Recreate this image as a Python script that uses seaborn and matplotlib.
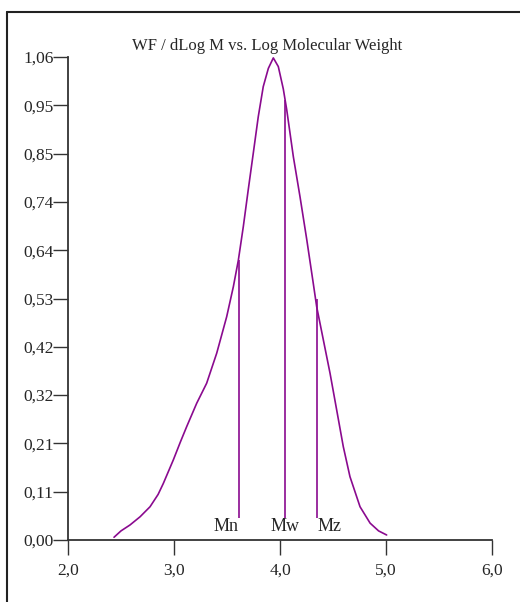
import numpy as np
import pandas as pd
import seaborn as sns
import matplotlib.pyplot as plt
from matplotlib.lines import Line2D

# curve
log_m = [2.434, 2.50, 2.585, 2.68, 2.774, 2.85, 2.899, 2.994, 3.06, 3.12, 3.214, 3.308,
         3.403, 3.497, 3.56, 3.607, 3.654, 3.70, 3.748, 3.795, 3.842, 3.89, 3.937,
         3.984, 4.031, 4.063, 4.126, 4.189, 4.252, 4.314, 4.346, 4.409, 4.472,
         4.535, 4.597, 4.66, 4.755, 4.85, 4.93, 5.006]
wf = [0.006, 0.020, 0.033, 0.051, 0.073, 0.100, 0.124, 0.176, 0.215, 0.249, 0.300, 0.344,
      0.410, 0.490, 0.556, 0.614, 0.688, 0.768, 0.849, 0.929, 0.995, 1.035, 1.058,
      1.039, 0.990, 0.945, 0.841, 0.753, 0.660, 0.563, 0.512, 0.439, 0.366,
      0.285, 0.205, 0.139, 0.073, 0.037, 0.020, 0.011]

# averages
avg_names = ["Mn", "Mw", "Mz"]
avg_x = [3.61, 4.05, 4.35]
avg_top = [0.615, 0.965, 0.53]
avg_bottom = 0.048

xticks = [2.0, 3.0, 4.0, 5.0, 6.0]
xlabels = ["2,0", "3,0", "4,0", "5,0", "6,0"]
yticks = [0.0, 0.106, 0.212, 0.318, 0.424, 0.53, 0.636, 0.742, 0.848, 0.954, 1.06]
ylabels = ["0,00", "0,11", "0,21", "0,32", "0,42", "0,53", "0,64", "0,74", "0,85", "0,95", "1,06"]

sns.set_style("ticks")
plt.rcParams["font.family"] = ["Liberation Serif", "DejaVu Serif"]

purple = "#8a0a8f"
fig = plt.figure(figsize=(5.2, 6.02), dpi=100)
ax = fig.add_axes([68/520, 62/602, 424/520, 483/602])

df = pd.DataFrame({"logM": log_m, "wf": wf})
sns.lineplot(data=df, x="logM", y="wf", ax=ax, color=purple, lw=1.2, sort=False)
ax.vlines(avg_x, avg_bottom, avg_top, color=purple, lw=1.2)
ax.text(avg_x[0], 0.012, avg_names[0], ha="right", va="bottom", fontsize=13)
ax.text(avg_x[1], 0.012, avg_names[1], ha="center", va="bottom", fontsize=13)
ax.text(avg_x[2], 0.012, avg_names[2], ha="left", va="bottom", fontsize=13)

ax.set_xlim(2.0, 6.0)
ax.set_ylim(0, 1.06)
ax.set_xticks(xticks, xlabels)
ax.set_yticks(yticks, ylabels)
ax.tick_params(axis="both", length=10.5, width=1.0, color="#333333", labelsize=12.5)
ax.tick_params(axis="y", pad=0)
ax.tick_params(axis="x", pad=6)
for s in ["left", "bottom"]:
    ax.spines[s].set_color("#333333")
    ax.spines[s].set_linewidth(1.3)
sns.despine(ax=ax)
ax.set_xlabel("")
ax.set_ylabel("")
ax.patch.set_alpha(0)

fig.text(267/520, 1 - 46/602, "WF / dLog M vs. Log Molecular Weight",
         ha="center", va="center", fontsize=12)

# outer frame (top and left edges only are visible)
fig.add_artist(Line2D([7/520, 1.0], [1 - 12/602, 1 - 12/602], color="#222222", lw=1.5))
fig.add_artist(Line2D([7/520, 7/520], [0.0, 1 - 12/602], color="#222222", lw=1.5))

fig.savefig("out.png", dpi=100)
